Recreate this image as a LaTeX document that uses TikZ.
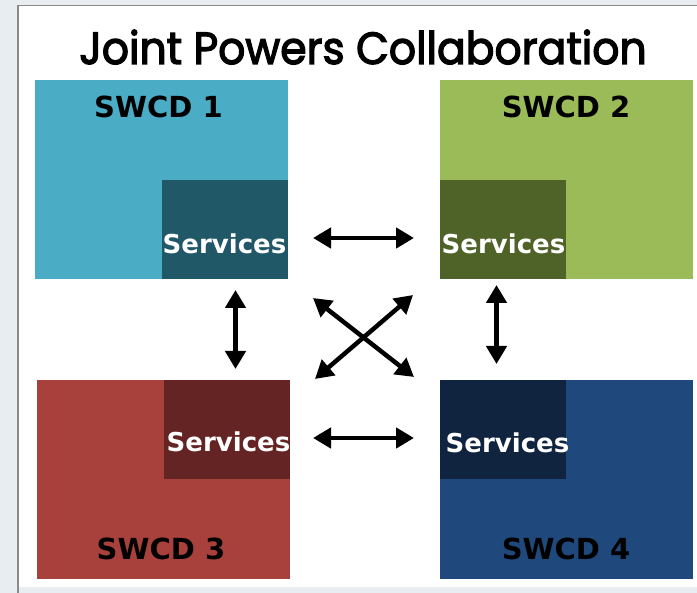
\documentclass[tikz,border=0pt]{standalone}
\usepackage{fontspec}
\setmainfont{DejaVu Sans}
\newfontfamily\titlefont{Poppins}
\usetikzlibrary{arrows.meta}

% heavier title: glyphs are filled and stroked (PDF text render mode 2)
\newcommand\heavytext[1]{%
  \special{pdf:literal direct 2 Tr 1.3 w}#1\special{pdf:literal direct 0 Tr 0.4 w}}

\definecolor{frameback}{HTML}{E8EDF1}
\definecolor{frameline}{HTML}{8A8A8A}
\definecolor{cyanbox}{HTML}{4BACC6}
\definecolor{cyandark}{HTML}{215868}
\definecolor{greenbox}{HTML}{9BBB59}
\definecolor{greendark}{HTML}{4F6228}
\definecolor{redbox}{HTML}{A8403C}
\definecolor{reddark}{HTML}{632423}
\definecolor{bluebox}{HTML}{1F497D}
\definecolor{bluedark}{HTML}{10243F}

\tikzset{
  district/.style={rectangle, inner sep=0pt, outer sep=0pt, minimum width=253pt, minimum height=199pt},
  servicebox/.style={rectangle, inner sep=0pt, outer sep=0pt, minimum width=126pt, minimum height=99pt},
  districtlabel/.style={font=\bfseries\fontsize{29}{30}\selectfont, text=black, inner sep=0pt},
  servicelabel/.style={font=\bfseries\fontsize{26}{27}\selectfont, text=white, inner sep=0pt},
  link/.style={line width=4.5pt, {Triangle[length=18pt,width=20pt]}-{Triangle[length=18pt,width=20pt]}}
}

\begin{document}
\begin{tikzpicture}[x=1pt,y=-1pt]
  \useasboundingbox (0,0) rectangle (697,593);
  % slide frame
  \fill[frameback] (0,0) rectangle (697,593);
  \fill[white] (18,6) rectangle (697,587);
  \draw[frameline, line width=1.5pt] (18,593) -- (18,5.5) -- (697,5.5);

  % title
  \node[font=\titlefont\fontsize{45}{48}\selectfont, anchor=base, inner sep=0pt] (title) at (363,64)
    {\scalebox{0.945}[1]{\heavytext{Joint Powers Collaboration}}};

  % district boxes
  \node[district, fill=cyanbox, anchor=north west] (d1) at (35,80) {};
  \node[district, fill=greenbox, anchor=north west] (d2) at (440,80) {};
  \node[district, fill=redbox, anchor=north west] (d3) at (37,380) {};
  \node[district, fill=bluebox, anchor=north west] (d4) at (440,380) {};

  % service boxes
  \node[servicebox, fill=cyandark, anchor=south east] (s1) at (d1.south east) {};
  \node[servicebox, fill=greendark, anchor=south west] (s2) at (d2.south west) {};
  \node[servicebox, fill=reddark, anchor=north east] (s3) at (d3.north east) {};
  \node[servicebox, fill=bluedark, anchor=north west] (s4) at (d4.north west) {};

  % labels
  \node[districtlabel] (l1) at (158.5,107) {SWCD 1};
  \node[districtlabel] (l2) at (566,107) {SWCD 2};
  \node[districtlabel] (l3) at (161,549) {SWCD 3};
  \node[districtlabel] (l4) at (566,549) {SWCD 4};

  \node[servicelabel] (t1) at (224.5,244) {Services};
  \node[servicelabel] (t2) at (503.5,244) {Services};
  \node[servicelabel] (t3) at (228.5,442) {Services};
  \node[servicelabel] (t4) at (507.5,443) {Services};

  % arrow end points
  \coordinate (h1a) at (313,238);  \coordinate (h1b) at (414,238);
  \coordinate (h2a) at (313,438);  \coordinate (h2b) at (414,438);
  \coordinate (v1a) at (235.5,290); \coordinate (v1b) at (235.5,369);
  \coordinate (v2a) at (496.5,285); \coordinate (v2b) at (496.5,364);
  \coordinate (xa) at (313,298);   \coordinate (xb) at (414,377);
  \coordinate (ya) at (413,295);   \coordinate (yb) at (315,379);

  % connectors
  \draw[link] (h1a) -- (h1b);
  \draw[link] (h2a) -- (h2b);
  \draw[link] (v1a) -- (v1b);
  \draw[link] (v2a) -- (v2b);
  \draw[link] (xa) -- (xb);
  \draw[link] (ya) -- (yb);
\end{tikzpicture}
\end{document}
